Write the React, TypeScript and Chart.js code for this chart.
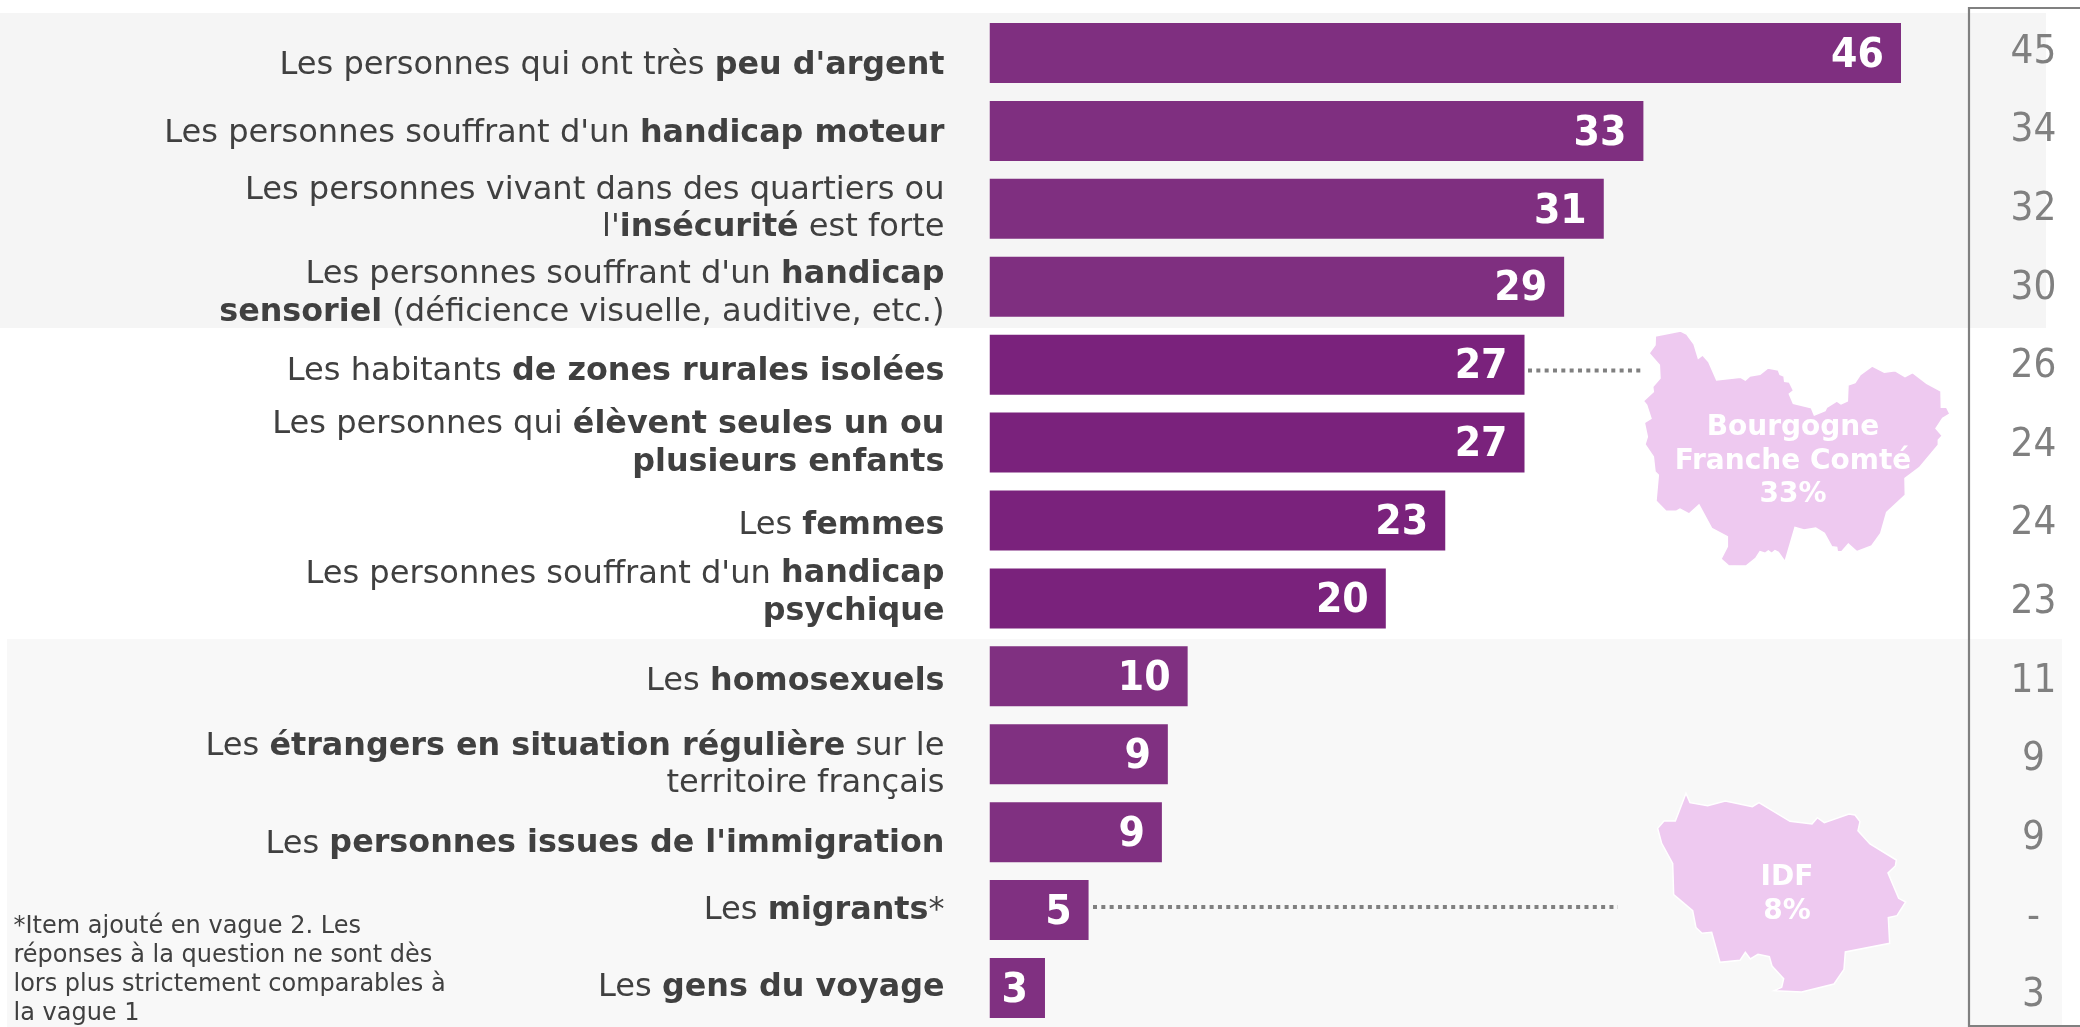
import React, { useEffect, useRef } from "react";
import { Chart, registerables } from "chart.js";

Chart.register(...registerables);

const W = 2080;
const H = 1027;
const FONT = '"DejaVu Sans", Verdana, sans-serif';

// ---- data ----
const categoryLines: string[][] = [
  ["Les personnes qui ont très **peu d'argent**"],
  ["Les personnes souffrant d'un **handicap moteur**"],
  ["Les personnes vivant dans des quartiers ou", "l'**insécurité** est forte"],
  ["Les personnes souffrant d'un **handicap**", "**sensoriel** (déficience visuelle, auditive, etc.)"],
  ["Les habitants **de zones rurales isolées**"],
  ["Les personnes qui **élèvent seules un ou**", "**plusieurs enfants**"],
  ["Les **femmes**"],
  ["Les personnes souffrant d'un **handicap**", "**psychique**"],
  ["Les **homosexuels**"],
  ["Les **étrangers en situation régulière** sur le", "territoire français"],
  ["Les **personnes issues de l'immigration**"],
  ["Les **migrants***"],
  ["Les **gens du voyage**"],
];
const currentWave = [46, 33, 31, 29, 27, 27, 23, 20, 10, 9, 8.7, 5, 2.8];
const previousWave = ["45", "34", "32", "30", "26", "24", "24", "23", "11", "9", "9", "-", "3"];
const footnoteLines = [
  "*Item ajouté en vague 2. Les",
  "réponses à la question ne sont dès",
  "lors plus strictement comparables à",
  "la vague 1",
];
const bourgogneLabel = ["Bourgogne", "Franche Comté", "33%"];
const idfLabel = ["IDF", "8%"];

// ---- styling ----
const barColors = [
  "#7f2f80", "#7f2f80", "#7f2f80", "#7f2f80",
  "#7a227c", "#7a227c", "#7a227c", "#7a227c",
  "#803081", "#803081", "#803081", "#803081", "#803081",
];
const labelNudge = [12.5, 2.5, 0.5, 7, 7.5, 1, 5, -5.5, 5, 11, 12, 0.5, -0.5];

const bourgogneShape = [
  [46,48],[122,33],[140,42],[162,72],[175,115],[188,105],[206,125],[230,180],[302,172],[316,180],[330,168],[360,163],[384,144],[415,150],[420,163],[432,168],[434,184],[448,186],[461,212],[448,222],[460,250],[514,263],[523,285],[555,272],[560,262],[590,243],[603,252],[622,243],[624,195],[645,188],[660,165],[697,138],[733,157],[765,152],[795,170],[818,158],[860,190],[903,213],[904,262],[920,262],[930,282],[908,295],[888,325],[907,347],[895,360],[895,375],[838,443],[795,475],[796,525],[740,577],[722,640],[695,678],[650,695],[625,672],[605,695],[592,695],[590,682],[575,680],[553,640],[527,624],[492,630],[465,622],[435,725],[415,697],[405,692],[395,700],[385,693],[375,700],[360,695],[347,715],[318,738],[265,737],[243,717],[262,680],[262,650],[215,625],[177,555],[147,582],[120,567],[108,574],[78,574],[48,543],[55,465],[45,455],[40,410],[15,373],[22,350],[13,308],[33,295],[20,255],[10,243],[40,215],[38,200],[60,175],[58,135],[27,100],[45,75],
].map(([x, y]) => [1640 + x / 3, 320 + y / 3]);

const idfShape = [
  [138,40],[150,68],[203,77],[256,63],[337,80],[357,68],[450,124],[516,132],[532,113],[553,128],[627,102],[645,105],[660,125],[654,152],[690,192],[769,240],[766,258],[744,279],[776,355],[797,366],[771,407],[745,413],[749,490],[616,516],[612,568],[582,612],[485,636],[403,632],[425,622],[431,596],[396,558],[388,530],[354,523],[331,537],[316,517],[300,541],[240,547],[215,457],[186,460],[168,443],[158,392],[101,344],[98,250],[65,190],[53,145],[72,123],[106,123],
].map(([x, y]) => [1640 + x / 3, 780 + y / 3]);

function poly(ctx: CanvasRenderingContext2D, pts: number[][], fill: string) {
  ctx.beginPath();
  pts.forEach(([x, y], i) => (i ? ctx.lineTo(x, y) : ctx.moveTo(x, y)));
  ctx.closePath();
  ctx.fillStyle = fill;
  ctx.fill();
  ctx.strokeStyle = "#ffffff";
  ctx.lineWidth = 1.5;
  ctx.stroke();
}

function runs(line: string) {
  return line.split("**").map((text, i) => ({ text, bold: i % 2 === 1 })).filter((r) => r.text);
}

function drawRich(ctx: CanvasRenderingContext2D, line: string, right: number, y: number) {
  const parts = runs(line);
  const fontOf = (b: boolean) => (b ? `bold 31.8px ${FONT}` : `32.1px ${FONT}`);
  let total = 0;
  parts.forEach((p) => {
    ctx.font = fontOf(p.bold);
    total += ctx.measureText(p.text).width;
  });
  let x = right - total;
  ctx.textAlign = "left";
  ctx.textBaseline = "middle";
  parts.forEach((p) => {
    ctx.font = fontOf(p.bold);
    ctx.fillText(p.text, x, y);
    x += ctx.measureText(p.text).width;
  });
}

function tallText(ctx: CanvasRenderingContext2D, t: string, x: number, y: number, stretch: number) {
  ctx.save();
  ctx.translate(x, y);
  ctx.scale(1, stretch);
  ctx.fillText(t, 0, 0);
  ctx.restore();
}

const decorations = {
  id: "decorations",
  beforeDatasetsDraw(chart: any) {
    const ctx: CanvasRenderingContext2D = chart.ctx;
    ctx.save();
    ctx.fillStyle = "#f5f5f5";
    ctx.fillRect(0, 13, 2046, 315);
    ctx.fillStyle = "#f8f8f8";
    ctx.fillRect(7, 639, 2055, 388);

    ctx.strokeStyle = "#808080";
    ctx.lineWidth = 2.2;
    ctx.beginPath();
    ctx.moveTo(2080, 8);
    ctx.lineTo(1969, 8);
    ctx.lineTo(1969, 1026);
    ctx.lineTo(2080, 1026);
    ctx.stroke();

    poly(ctx, bourgogneShape, "#eec9f0");
    poly(ctx, idfShape, "#eec9f0");

    ctx.strokeStyle = "#808080";
    ctx.lineWidth = 4;
    ctx.setLineDash([4, 4.33]);
    ctx.beginPath();
    ctx.moveTo(1528, 370.5);
    ctx.lineTo(1641, 370.5);
    ctx.moveTo(1093, 907);
    ctx.lineTo(1618, 907);
    ctx.stroke();
    ctx.restore();
  },
  afterDatasetsDraw(chart: any) {
    const ctx: CanvasRenderingContext2D = chart.ctx;
    const yScale = chart.scales.y;
    const bars = chart.getDatasetMeta(0).data;
    ctx.save();

    categoryLines.forEach((lines, i) => {
      const cy = yScale.getPixelForValue(i) + labelNudge[i];
      ctx.fillStyle = "#404040";
      lines.forEach((line, k) => {
        drawRich(ctx, line, 944.5, cy + (k - (lines.length - 1) / 2) * 37.5);
      });
    });

    currentWave.forEach((v, i) => {
      ctx.fillStyle = "#ffffff";
      ctx.font = `bold 38px ${FONT}`;
      ctx.textAlign = "right";
      ctx.textBaseline = "middle";
      tallText(ctx, String(Math.round(v)), bars[i].x - 17, bars[i].y + 3, 1.09);
    });

    previousWave.forEach((t, i) => {
      ctx.fillStyle = "#808080";
      ctx.font = `36px ${FONT}`;
      ctx.textAlign = "center";
      ctx.textBaseline = "middle";
      tallText(ctx, t, 2033.5, yScale.getPixelForValue(i) - 0.5 + (i * 8.5) / 12, 1.09);
    });

    ctx.fillStyle = "#ffffff";
    ctx.font = `bold 28px ${FONT}`;
    ctx.textAlign = "center";
    ctx.textBaseline = "middle";
    bourgogneLabel.forEach((t, k) => ctx.fillText(t, 1793, 428 + k * 33.4));
    idfLabel.forEach((t, k) => ctx.fillText(t, 1787, 877.5 + k * 34));

    ctx.fillStyle = "#404040";
    ctx.font = `24px ${FONT}`;
    ctx.textAlign = "left";
    footnoteLines.forEach((t, k) => ctx.fillText(t, 13.5, 927 + k * 29));
    ctx.restore();
  },
};

export default function App() {
  const ref = useRef<HTMLCanvasElement>(null);
  useEffect(() => {
    document.body.style.margin = "0";
    const chart = new Chart(ref.current!, {
      type: "bar",
      data: {
        labels: categoryLines.map((l) => l.join(" ").replace(/\*\*/g, "")),
        datasets: [
          {
            label: "Vague 2",
            data: currentWave,
            backgroundColor: barColors,
            barPercentage: 0.77,
            categoryPercentage: 1,
          },
        ],
      },
      options: {
        indexAxis: "y",
        responsive: false,
        animation: false,
        layout: { padding: { left: 989.5, right: 179, top: 14, bottom: -2.5 } },
        plugins: { legend: { display: false }, tooltip: { enabled: false } },
        scales: {
          x: { display: false, min: 0, max: 46 },
          y: { display: false },
        },
      },
      plugins: [decorations],
    } as any);
    return () => chart.destroy();
  }, []);
  return <canvas ref={ref} width={W} height={H} style={{ display: "block", width: W, height: H }} />;
}
